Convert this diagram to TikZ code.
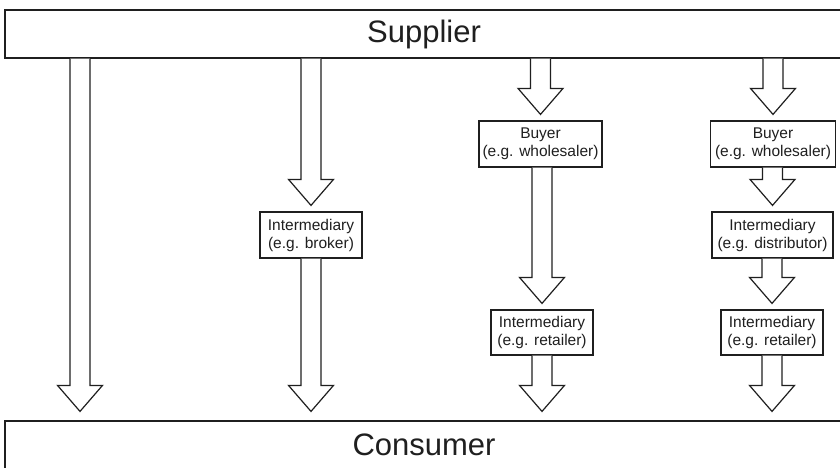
\documentclass[tikz,border=0pt]{standalone}
\usepackage{fontspec}
\setmainfont{Liberation Sans}
\usetikzlibrary{calc}

% Hollow block arrow from the edge of one node down to just above another.
% #1 = gap left above the target, #2 = start (node anchor), #3 = target (node anchor)
\newcommand\flowarrow[3][6pt]{%
  \draw[blockarrow] let \p1=(#2), \p2=(#3) in
    (\x2-10pt,\y1) -- (\x2-10pt,\y2+#1+26pt) -- (\x2-22.5pt,\y2+#1+26pt)
    -- (\x2,\y2+#1) -- (\x2+22.5pt,\y2+#1+26pt) -- (\x2+10pt,\y2+#1+26pt)
    -- (\x2+10pt,\y1);}

\tikzset{
  lineink/.style={draw=black!88, line width=1.2pt},
  blockarrow/.style={lineink, line join=miter, fill=white},
  bigbox/.style={lineink, rectangle, minimum width=838pt, minimum height=48pt,
    inner sep=0pt, text=black!88, font=\fontsize{31}{36}\selectfont},
  smallbox/.style={lineink, rectangle, minimum height=46pt, inner sep=1pt,
    align=center, text=black!88, font=\fontsize{15.5}{18}\selectfont},
}

\begin{document}
\begin{tikzpicture}[x=1pt,y=-1pt]
  \useasboundingbox[fill=white] (0,0) rectangle (840,467);

  % end points of the chain
  \node[bigbox] (supplier) at (424,34) {Supplier};
  \node[bigbox] (consumer) at (424,445) {Consumer};

  % column reference for the direct route
  \coordinate (col1) at (80,0);

  % intermediaries
  \node[smallbox, minimum width=102pt] (broker) at (311,235)
    {Intermediary\\(e.g. broker)};
  \node[smallbox, minimum width=123pt] (buyerA) at (540.5,144)
    {Buyer\\(e.g. wholesaler)};
  \node[smallbox, minimum width=102pt, minimum height=45pt] (retailA) at (542,332.5)
    {Intermediary\\(e.g. retailer)};
  \node[smallbox, minimum width=125pt] (buyerB) at (773,144)
    {Buyer\\(e.g. wholesaler)};
  \node[smallbox, minimum width=121pt] (distB) at (772.5,235)
    {Intermediary\\(e.g. distributor)};
  \node[smallbox, minimum width=102pt, minimum height=45pt] (retailB) at (772,332.5)
    {Intermediary\\(e.g. retailer)};

  % route 1: direct
  \flowarrow[9pt]{supplier.south -| col1}{consumer.north -| col1}

  % route 2: via broker
  \flowarrow{supplier.south -| broker}{broker.north}
  \flowarrow[9pt]{broker.south}{consumer.north -| broker}

  % route 3: wholesaler and retailer
  \flowarrow{supplier.south -| buyerA}{buyerA.north}
  \flowarrow{buyerA.south}{retailA.north}
  \flowarrow[9pt]{retailA.south}{consumer.north -| retailA}

  % route 4: wholesaler, distributor and retailer
  \flowarrow{supplier.south -| buyerB}{buyerB.north}
  \flowarrow{buyerB.south}{distB.north}
  \flowarrow{distB.south}{retailB.north}
  \flowarrow[9pt]{retailB.south}{consumer.north -| retailB}
\end{tikzpicture}
\end{document}
